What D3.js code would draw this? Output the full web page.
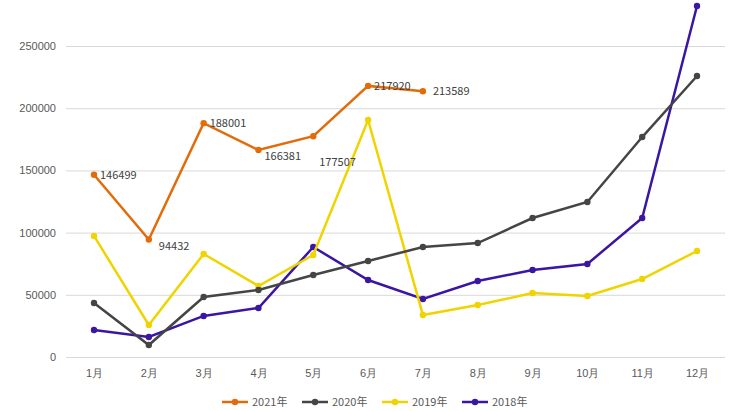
<!DOCTYPE html>
<html><head><meta charset="utf-8">
<script src="https://cdn.jsdelivr.net/npm/d3@7"></script>
<style>body{margin:0;background:#fff;font-family:"Microsoft YaHei","Noto Sans CJK SC",sans-serif;}</style>
</head><body><svg id="c" width="746" height="411"></svg>
<script>
var months = ["1月","2月","3月","4月","5月","6月","7月","8月","9月","10月","11月","12月"];
var yTicks = [0,50000,100000,150000,200000,250000];
var s2021 = [146499,94432,188001,166381,177507,217920,213589];
var s2020 = [43400,9600,48200,53900,65900,77200,88400,91600,111700,124600,176800,225900];
var s2019 = [97300,25700,82800,57100,82000,190500,33800,41800,51400,49000,62700,85200];
var s2018 = [21700,16100,33000,39400,88400,61900,46600,61100,69900,74800,111700,282200];
var series = [
  {name:"2021年", color:"#e36c0a", values:s2021},
  {name:"2020年", color:"#454545", values:s2020},
  {name:"2019年", color:"#f0d400", values:s2019},
  {name:"2018年", color:"#3a16a3", values:s2018}
];

var svg = d3.select("#c");
var x = d3.scalePoint().domain(months).range([94,697]);
var y = d3.scaleLinear().domain([0,250000]).range([357,46]);

/* grid + y labels */
var ga = svg.append("g").attr("transform","translate(66,0)")
  .call(d3.axisLeft(y).tickValues(yTicks).tickSize(-659).tickFormat(d3.format("d")));
ga.select(".domain").remove();
ga.selectAll("line").attr("stroke","#d9d9d9");
ga.selectAll("text").attr("x",-10).attr("fill","#595959").style("font-size","11px");

var gx = svg.append("g").attr("transform","translate(0,357)")
  .call(d3.axisBottom(x).tickSize(0).tickPadding(12));
gx.select(".domain").attr("stroke","#d9d9d9");
gx.selectAll("text").attr("fill","#595959").style("font-size","11px");

var line = d3.line().x(function(d,i){return x(months[i]);}).y(function(d){return y(d);});
series.slice().reverse().forEach(function(s){
  var g = svg.append("g");
  g.append("path").attr("d",line(s.values)).attr("fill","none").attr("stroke",s.color).attr("stroke-width",2.5);
  g.selectAll("circle").data(s.values).enter().append("circle")
    .attr("cx",function(d,i){return x(months[i]);}).attr("cy",function(d){return y(d);})
    .attr("r",3.2).attr("fill",s.color);
});
/* data labels for 2021 */
var offs = [[6,4],[10,10],[6,4],[6,10],[6,30],[6,4],[10,4]];
svg.selectAll(".lbl").data(s2021).enter().append("text")
  .attr("x",function(d,i){return x(months[i])+offs[i][0];})
  .attr("y",function(d,i){return y(d)+offs[i][1];})
  .attr("fill","#404040").style("font-size","11px").text(function(d){return d;});

/* legend */
var lg = svg.append("g").attr("transform","translate(222,402)");
series.forEach(function(s,i){
  var g = lg.append("g").attr("transform","translate("+(i*80)+",0)");
  g.append("line").attr("x1",0).attr("x2",26).attr("stroke",s.color).attr("stroke-width",2.5);
  g.append("circle").attr("cx",13).attr("r",3.2).attr("fill",s.color);
  g.append("text").attr("x",30).attr("y",4).attr("fill","#595959").style("font-size","11px").text(s.name);
});
</script></body></html>
